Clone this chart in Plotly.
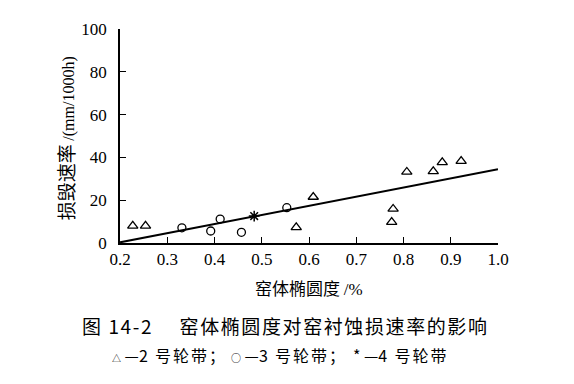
import plotly.graph_objects as go

# Data
tri_x = [0.227, 0.254, 0.573, 0.609, 0.775, 0.778, 0.807, 0.863, 0.882, 0.922]
tri_y = [8.0, 8.0, 7.3, 21.5, 9.8, 15.9, 33.2, 33.5, 37.7, 38.3]
circ_x = [0.331, 0.392, 0.412, 0.457, 0.553]
circ_y = [7.1, 5.6, 11.2, 5.0, 16.5]
star_x = [0.484]
star_y = [12.6]
fit_x = [0.2, 1.0]
fit_y = [0.3, 34.5]

x_ticks = [0.2, 0.3, 0.4, 0.5, 0.6, 0.7, 0.8, 0.9, 1.0]
x_ticklabels = ["0.2", "0.3", "0.4", "0.5", "0.6", "0.7", "0.8", "0.9", "1.0"]
y_ticks = [0, 20, 40, 60, 80, 100]

legend_symbols = ["<span style='font-size:9px'>△</span>",
                  "<span style='font-size:10px'>○</span>",
                  "*"]
legend_numbers = ["2", "3", "4"]
legend_tails = ["号轮带；", "号轮带；", "号轮带"]
legend_left_px = [112, 231, 353]

serif = "Liberation Serif, DejaVu Serif, serif"
cjk = "Noto Sans CJK SC, Noto Sans, sans-serif"

fig = go.Figure()
fig.add_trace(go.Scatter(x=fit_x, y=fit_y, mode="lines",
                         line=dict(color="black", width=2), showlegend=False))
fig.add_trace(go.Scatter(x=tri_x, y=tri_y, mode="markers",
                         marker=dict(symbol="triangle-up-open", size=9, color="black",
                                     line=dict(width=1.3)), showlegend=False))
fig.add_trace(go.Scatter(x=circ_x, y=circ_y, mode="markers",
                         marker=dict(symbol="circle-open", size=8, color="black",
                                     line=dict(width=1.3)), showlegend=False))
fig.add_trace(go.Scatter(x=star_x, y=star_y, mode="markers",
                         marker=dict(symbol="asterisk-open", size=9, color="black",
                                     line=dict(width=1.5)), showlegend=False))

ser_span = "<span style='font-family:Liberation Serif'>{}</span>"

# plot area spans pixels 120..498 horizontally (page has 8px body margin)
annotations = [
    dict(text="<span style='font-size:19px'>损毁速率</span> " + ser_span.format("/(mm/1000h)"),
         xref="paper", yref="paper",
         x=-0.145, y=0.49, xanchor="center", yanchor="middle", textangle=-90,
         showarrow=False, font=dict(family=cjk, size=16)),
    dict(text="窑体椭圆度 " + ser_span.format("/%"), xref="paper", yref="paper",
         x=0.5, y=-0.209, xanchor="center", yanchor="middle",
         showarrow=False, font=dict(family=cjk, size=17)),
    dict(text="<span style='letter-spacing:1.6px'>图 14-2　 窑体椭圆度对窑衬蚀损速率的影响</span>",
         xref="paper", yref="paper",
         x=-0.105, y=-0.386, xanchor="left", yanchor="middle",
         showarrow=False, font=dict(family=cjk, size=19)),
]
for sym, num, tail, px in zip(legend_symbols, legend_numbers, legend_tails, legend_left_px):
    txt = sym + " —" + num + "  <span style='letter-spacing:2px'>" + tail + "</span>"
    annotations.append(dict(text=txt, xref="paper", yref="paper",
                            x=(px - 120) / 378.0 - 0.005, y=-0.523,
                            xanchor="left", yanchor="middle",
                            showarrow=False, font=dict(family=cjk, size=16)))

fig.update_layout(
    width=574, height=384,
    margin=dict(l=112, r=84, t=15, b=149),
    paper_bgcolor="white", plot_bgcolor="white",
    font=dict(family=serif, size=17, color="black"),
    xaxis=dict(range=[0.2, 1.0], tickvals=x_ticks, ticktext=x_ticklabels,
               showgrid=False, zeroline=False, showline=True, linecolor="black",
               linewidth=1.5, ticks="inside", ticklen=6, tickcolor="black",
               tickfont=dict(family=serif, size=17)),
    yaxis=dict(range=[0, 100], tickvals=y_ticks,
               showgrid=False, zeroline=False, showline=True, linecolor="black",
               linewidth=1.5, ticks="inside", ticklen=6, tickcolor="black",
               ticklabelstandoff=8,
               tickfont=dict(family=serif, size=17)),
    annotations=annotations,
)

fig.write_html("out.html")
